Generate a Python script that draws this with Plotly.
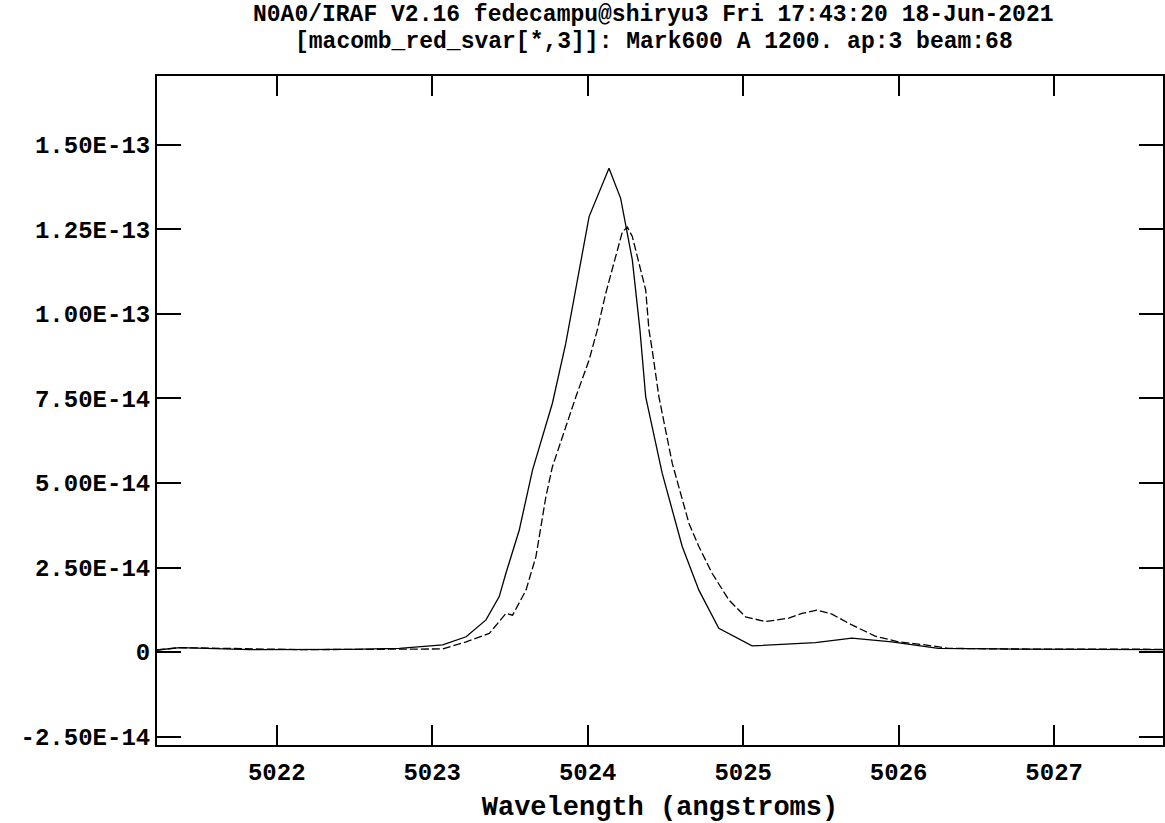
import plotly.graph_objects as go

# Solid spectrum (wavelength in Angstrom, flux in units of 1e-14)
solid_wave = [5021.230, 5021.377, 5021.827, 5022.469, 5022.789, 5023.067, 5023.218,
              5023.346, 5023.431, 5023.474, 5023.560, 5023.645, 5023.773, 5023.859,
              5024.009, 5024.062, 5024.137, 5024.212, 5024.287, 5024.336, 5024.373,
              5024.479, 5024.608, 5024.715, 5024.843, 5025.057, 5025.464, 5025.699,
              5025.956, 5026.255, 5026.641, 5027.700]
solid_flux = [0.06, 0.13, 0.07, 0.08, 0.11, 0.21, 0.45,
              0.95, 1.64, 2.33, 3.61, 5.38, 7.36, 9.13,
              12.88, 13.47, 14.31, 13.42, 11.60, 9.53, 7.55,
              5.29, 3.12, 1.83, 0.70, 0.18, 0.28, 0.41,
              0.30, 0.11, 0.09, 0.07]

# Dashed spectrum
dash_wave = [5021.230, 5021.377, 5022.148, 5023.065, 5023.218, 5023.367, 5023.474,
             5023.517, 5023.603, 5023.667, 5023.731, 5023.773, 5023.838, 5023.924,
             5024.009, 5024.062, 5024.116, 5024.223, 5024.255, 5024.287, 5024.373,
             5024.394, 5024.415, 5024.458, 5024.544, 5024.651, 5024.715, 5024.800,
             5024.908, 5025.015, 5025.143, 5025.293, 5025.378, 5025.474, 5025.571,
             5025.699, 5025.849, 5025.999, 5026.170, 5026.320, 5026.641, 5027.700]
dash_flux = [0.06, 0.13, 0.07, 0.09, 0.30, 0.55, 1.14,
             1.09, 1.83, 2.82, 4.59, 5.48, 6.37, 7.55,
             8.64, 9.53, 10.61, 12.43, 12.57, 12.29, 10.71,
             9.53, 8.93, 7.55, 5.58, 3.81, 3.12, 2.33,
             1.54, 1.04, 0.90, 1.00, 1.14, 1.24, 1.12,
             0.80, 0.47, 0.30, 0.21, 0.11, 0.09, 0.08]

scale = 1e-14

x_tickvals = [5022, 5023, 5024, 5025, 5026, 5027]
x_ticktext = ["5022", "5023", "5024", "5025", "5026", "5027"]
y_tickvals = [-2.5e-14, 0, 2.5e-14, 5.0e-14, 7.5e-14, 1.0e-13, 1.25e-13, 1.5e-13]
y_ticktext = ["-2.50E-14", "0", "2.50E-14", "5.00E-14", "7.50E-14",
              "1.00E-13", "1.25E-13", "1.50E-13"]

title_line1 = "N0A0/IRAF V2.16 fedecampu@shiryu3 Fri 17:43:20 18-Jun-2021"
title_line2 = "[macomb_red_svar[*,3]]: Mark600 A 1200. ap:3 beam:68"
x_title = "Wavelength (angstroms)"

FONT = "Liberation Mono"

fig = go.Figure()
fig.add_trace(go.Scatter(
    x=solid_wave, y=[v * scale for v in solid_flux], mode="lines",
    line=dict(color="black", width=1.3), showlegend=False, hoverinfo="skip"))
fig.add_trace(go.Scatter(
    x=dash_wave, y=[v * scale for v in dash_flux], mode="lines",
    line=dict(color="black", width=1.3, dash="8px,3px"), showlegend=False,
    hoverinfo="skip"))

fig.update_layout(
    width=1165, height=823,
    margin=dict(l=157, r=0, t=76, b=78),
    paper_bgcolor="white", plot_bgcolor="white",
    font=dict(family=FONT, color="black"),
    showlegend=False,
)
fig.update_xaxes(
    range=[5021.23, 5027.70],
    tickvals=x_tickvals, ticktext=x_ticktext,
    ticks="inside", ticklen=20, tickwidth=2, tickcolor="black",
    showline=True, linewidth=2, linecolor="black", mirror="ticks",
    showgrid=False, zeroline=False, ticklabelstandoff=4,
    tickfont=dict(family=FONT, size=24, color="black", weight="bold"),
    title=dict(text=x_title, font=dict(family=FONT, size=27, color="black", weight="bold"), standoff=10),
)
fig.update_yaxes(
    range=[-2.751e-14, 1.704e-13],
    tickvals=y_tickvals, ticktext=y_ticktext,
    ticks="inside", ticklen=24, tickwidth=2, tickcolor="black",
    showline=True, linewidth=2, linecolor="black", mirror="ticks",
    showgrid=False, zeroline=False,
    tickfont=dict(family=FONT, size=24, color="black", weight="bold"),
)

fig.add_annotation(text=title_line1, xref="paper", yref="paper",
                   x=0.494, y=1, yshift=61, showarrow=False, borderpad=0,
                   xanchor="center", yanchor="middle",
                   font=dict(family=FONT, size=23, color="black", weight="bold"))
fig.add_annotation(text=title_line2, xref="paper", yref="paper",
                   x=0.494, y=1, yshift=34, showarrow=False, borderpad=0,
                   xanchor="center", yanchor="middle",
                   font=dict(family=FONT, size=23, color="black", weight="bold"))

fig.write_html("out.html")
